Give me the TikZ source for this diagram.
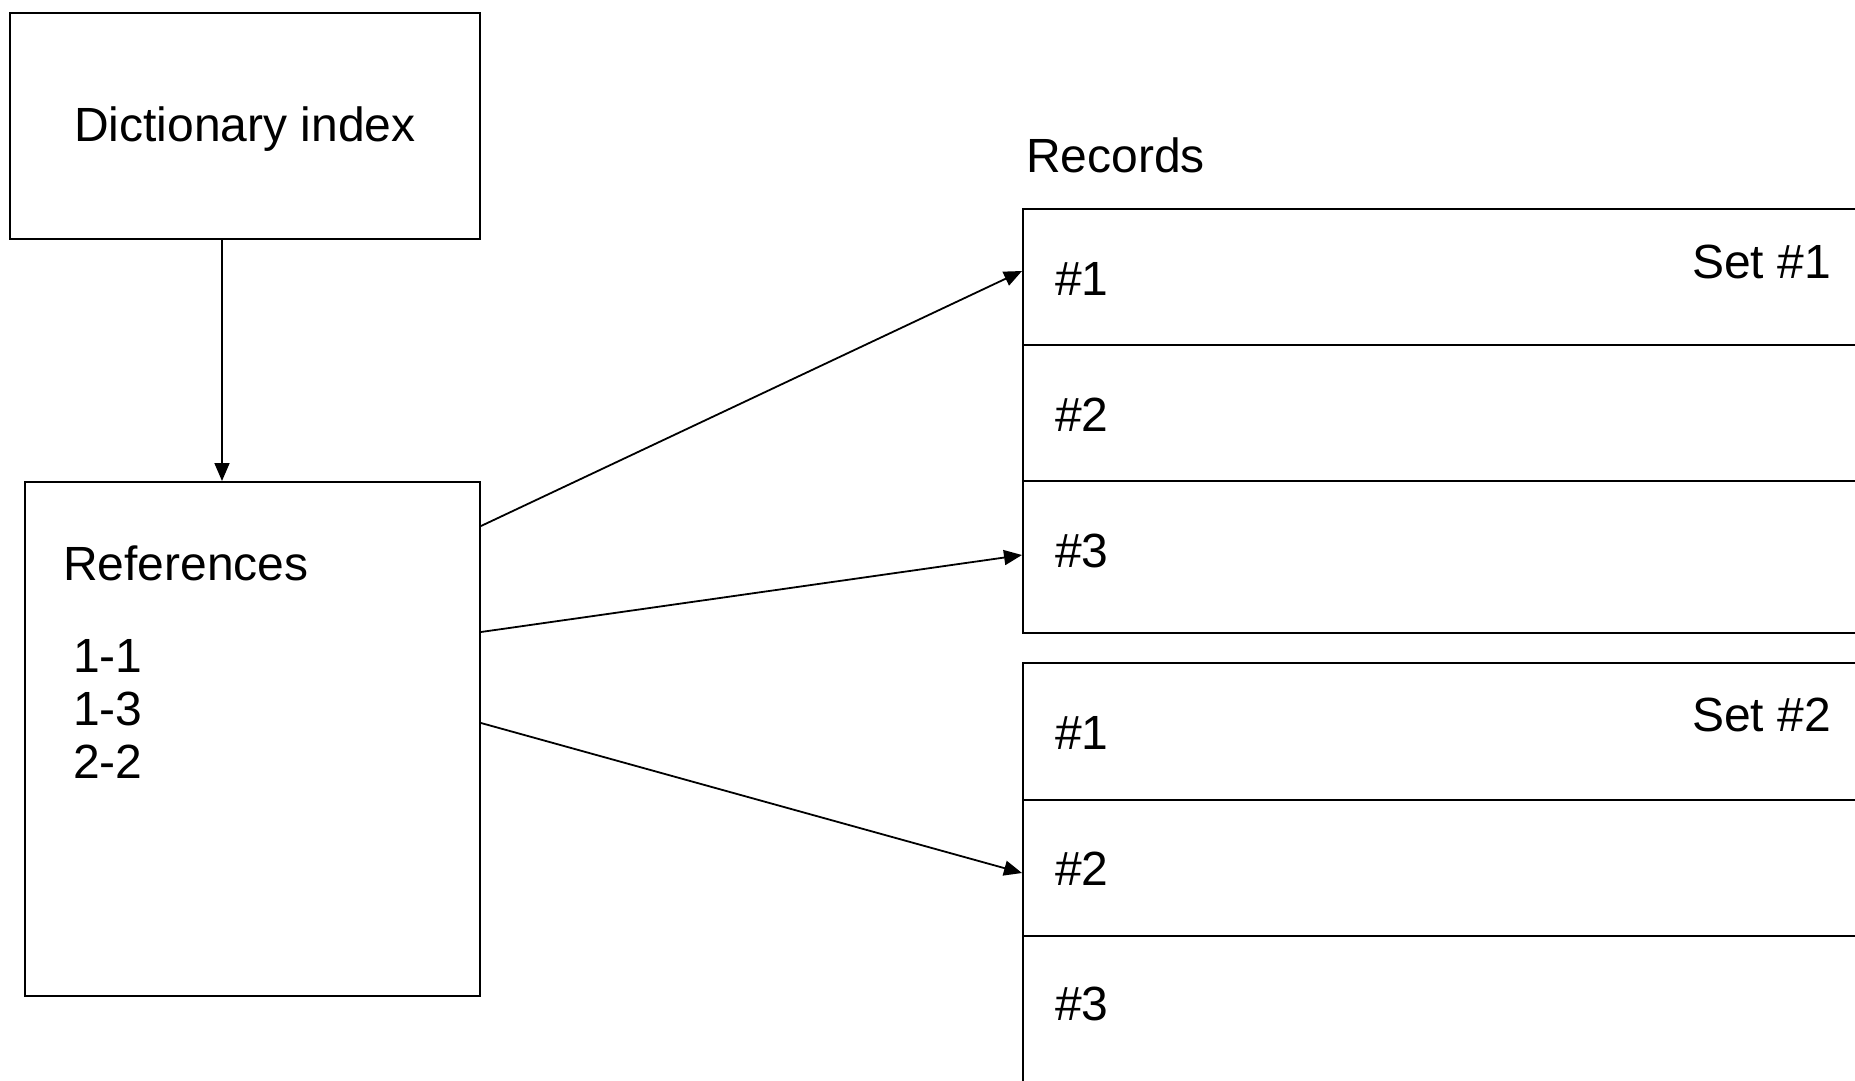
\documentclass[tikz,border=0pt]{standalone}
\usepackage{fontspec}
\setmainfont{Liberation Sans}
\usetikzlibrary{arrows.meta,calc}
\begin{document}
\begin{tikzpicture}[x=1pt,y=-1pt,
  box/.style={draw,line width=2pt,rectangle,inner sep=0pt,anchor=north west},
  row/.style={draw,line width=2pt,rectangle,inner sep=0pt,anchor=north west,minimum width=900pt},
  lbl/.style={inner sep=0pt,anchor=base west,font=\fontsize{48}{57}\selectfont},
  arr/.style={line width=1.8pt,-{Triangle[length=18pt,width=15pt]}}]
\useasboundingbox (0,0) rectangle (1855,1081);
\clip (0,0) rectangle (1855,1081);
% left boxes
\node[box,minimum width=470pt,minimum height=226pt] (dict) at (9,12) {};
\node[lbl,anchor=base] (dicttxt) at (245,141) {Dictionary index};
\node[box,minimum width=455pt,minimum height=514pt] (refs) at (24,481) {};
\node[lbl] (reftxt) at (63,580) {References};
\node[lbl] (r1) at (73,672) {1-1};
\node[lbl] (r2) at (73,725) {1-3};
\node[lbl] (r3) at (73,778) {2-2};
% records
\node[lbl] (rec) at (1026,172) {Records};
\node[row,minimum height=136pt] (s1a) at (1022,208) {};
\node[row,minimum height=136pt] (s1b) at (1022,344) {};
\node[row,minimum height=152pt] (s1c) at (1022,480) {};
\node[row,minimum height=137pt] (s2a) at (1022,662) {};
\node[row,minimum height=136pt] (s2b) at (1022,799) {};
\node[row,minimum height=200pt] (s2c) at (1022,935) {};
\node[lbl] (l1a) at (1055,295) {\#1};
\node[lbl] (l1b) at (1055,431) {\#2};
\node[lbl] (l1c) at (1055,567) {\#3};
\node[lbl] (l2a) at (1055,749) {\#1};
\node[lbl] (l2b) at (1055,885) {\#2};
\node[lbl] (l2c) at (1055,1020) {\#3};
\node[lbl] (set1) at (1692,278) {Set \#1};
\node[lbl] (set2) at (1692,731) {Set \#2};
% connectors
\draw[arr] ($(dict.south)+(-23,0)$) -- ($(refs.north)+(-30.5,0)$);
\draw[arr] ($(refs.north east)+(0,45)$) -- ($(s1a.north west)+(0,63)$);
\draw[arr] ($(refs.north east)+(0,151)$) -- ($(s1c.north west)+(0,75)$);
\draw[arr] ($(refs.north east)+(0,242)$) -- ($(s2b.north west)+(0,74)$);
\end{tikzpicture}
\end{document}
